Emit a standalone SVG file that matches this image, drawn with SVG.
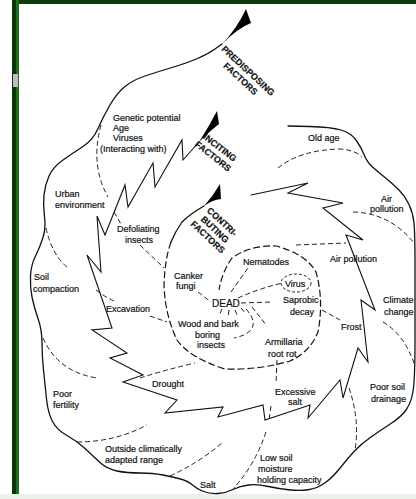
<svg xmlns="http://www.w3.org/2000/svg" width="416" height="499" viewBox="0 0 416 499">
<style>
.bg{fill:#fff}
.ln{fill:none;stroke:#111;stroke-width:1.3;stroke-linejoin:round;stroke-linecap:round}
.zz{fill:none;stroke:#111;stroke-width:1.1;stroke-linejoin:miter;stroke-linecap:round}
.ds{fill:none;stroke:#222;stroke-width:1;stroke-dasharray:5 3}
.dl{fill:none;stroke:#111;stroke-width:1.2;stroke-dasharray:7 3}
.fl{fill:#000}
text{font-family:"Liberation Sans",Arial,sans-serif;font-size:9px;fill:#111;stroke:#111;stroke-width:0.2}
.cap{font-weight:bold;font-size:9px}
.c{text-anchor:middle}
</style>
<rect class="bg" width="416" height="499"/>
<rect x="12" y="0" width="404" height="4" fill="#0b3a0b"/>
<rect x="12" y="0" width="4" height="499" fill="#073307"/>
<rect x="16" y="0" width="3" height="499" fill="#1f6e1f"/>
<rect x="0" y="494" width="416" height="5" fill="#eaf0ea"/>
<rect x="13" y="74" width="5" height="13" fill="#bdbdbd"/>

<g id="connectors">
<!-- predisposing spiral (outer boundary) -->
<path class="ln" d="M222,44 L215,49 Q208,54 197.5,58.5 Q187,63 172,67.5 Q157,72 145,76 Q133,80 125,86.5 Q117,93 110,105 Q103,117 98,128.5 Q93,140 83,146.5 Q73,153 63,160 Q53,167 49,176 Q45,185 44,195 Q43,205 44.5,216.5 Q46,228 43,237.5 Q40,247 35.5,256 Q31,265 30.5,276 Q30,287 32,297 Q34,307 38,318.5 Q42,330 42,342.5 Q42,355 43.5,370 Q45,385 46.5,399 Q48,413 52.5,421.5 Q57,430 67,435.5 Q77,441 85,448.5 Q93,456 100,462.5 Q107,469 117,471 Q127,473 140,473 Q153,473 163,475 Q173,477 180.5,479 Q188,481 192.5,485 Q197,489 203.5,491.5 Q210,494 218,493.5 Q226,493 233,489.5 Q240,486 248.5,485 Q257,484 268.5,486.5 Q280,489 290.5,490 Q301,491 309.5,489.5 Q318,488 325.5,482.5 Q333,477 340.5,467.5 Q348,458 354.5,451 Q361,444 371,437 Q381,430 391,423.5 Q401,417 406,410 Q411,403 413,391.5 Q415,380 415,340 Q415,300 415,266.5 Q415,233 414,223 Q413,213 409,204.5 Q405,196 399,190 Q393,184 385,177.5 Q377,171 372,166.5 Q367,162 364,154.5 Q361,147 356,140 Q351,133 341,130 Q331,127 309.5,126.5 L288,126"/>
<path class="fl" d="M222,44 Q236,30 246,9 L251,23 Q238,28 222,44 Z"/>
<!-- inciting spiral (zigzag) -->
<path class="zz" d="M199,142 L183,160 L182,140 L155,187 L153,163 L128,207 L125,185 L105,235 L97,216 L101,272 L87,255 L112,328 L92,330 L127,353 L110,358 L143,375 L123,382 L177,400 L165,413 L223,407 L218,417 L263,405 L265,420 L310,405 L308,418 L340,380 L343,398 L358,348 L368,362 L361,300 L375,310 L346,235 L363,240 L323,208 L343,203 L288,193 L308,183 L251,195"/>
<path class="fl" d="M199,142 Q208,128 217,111 L219,124 Q210,131 199,142 Z"/>
<!-- contributing spiral -->
<path class="ln" d="M204,206 Q190,214 182,222 Q175,232 171,242"/>
<path class="dl" d="M171,242 Q165,258 164,285 Q165,315 177,340 Q190,358 225,369 Q260,370 290,361 Q310,352 318,332 Q324,300 316,272 Q306,254 276,246 Q250,245 232,258 Q222,272 219,290"/>
<path class="fl" d="M204,206 Q213,196 220,184 L221,199 Q212,200 204,206 Z"/>
<!-- dashed boundaries -->
<path class="ds" d="M101,125 Q90,165 108,197"/>
<path class="ds" d="M114,212 L121,224"/>
<path class="ds" d="M140,245 L164,268"/>
<path class="ds" d="M46,228 Q52,255 68,268"/>
<path class="ds" d="M96,290 Q105,297 114,301"/>
<path class="ds" d="M150,316 L167,322"/>
<path class="ds" d="M43,338 Q58,372 97,378"/>
<path class="ds" d="M140,378 Q165,370 195,363"/>
<path class="ds" d="M77,442 Q115,442 147,425"/>
<path class="ds" d="M170,476 Q200,462 222,443"/>
<path class="ds" d="M277,360 L276,384"/>
<path class="ds" d="M271,406 L269,420"/>
<path class="ds" d="M266,432 Q255,465 233,489"/>
<path class="ds" d="M349,388 Q360,420 355,450"/>
<path class="ds" d="M383,322 Q405,335 415,366"/>
<path class="ds" d="M353,212 Q390,213 414,243"/>
<path class="ds" d="M278,168 Q300,150 340,149 Q355,150 362,157"/>
<path class="ds" d="M296,245 L346,243"/>
<path class="ds" d="M322,310 L340,320"/>
<!-- around DEAD -->
<path class="ds" d="M198,292 L211,302"/>
<path class="ds" d="M241,303 L272,302"/>
<path class="ds" d="M238,298 Q260,288 283,283"/>
<path class="ds" d="M231,292 L248,268"/>
<path class="ds" d="M222,309 L219,316 M229,310 L228,318 M235,310 L238,317 M241,308 L246,314"/>
<path class="ds" d="M246,309 Q258,322 250,331 Q244,336 234,338"/>
<path class="ds" d="M252,307 L267,326"/>
<ellipse class="ds" cx="296" cy="283" rx="15" ry="9" style="stroke-dasharray:3 2"/>
</g>

<g id="predisposing-factors" transform="translate(246,73) rotate(43)"><text class="cap c" x="0" y="0">PREDISPOSING</text><text class="cap c" x="0" y="11">FACTORS</text></g>
<g id="inciting-factors" transform="translate(218,150) rotate(38)"><text class="cap c" x="0" y="0">INCITING</text><text class="cap c" x="0" y="11">FACTORS</text></g>
<g id="contributing-factors" transform="translate(220,224) rotate(43)"><text class="cap c" x="0" y="0">CONTRI-</text><text class="cap c" x="0" y="10.5">BUTING</text><text class="cap c" x="0" y="21">FACTORS</text></g>

<g id="genetic"><text x="113" y="121">Genetic potential</text><text x="113" y="131">Age</text><text x="113" y="141">Viruses</text><text x="100" y="152">(Interacting with)</text></g>
<g id="urban"><text x="55" y="197">Urban</text><text x="55" y="208">environment</text></g>
<g id="defoliating"><text x="117" y="232">Defoliating</text><text x="125" y="243">insects</text></g>
<g id="soil-compaction"><text x="34" y="280">Soil</text><text x="33" y="292">compaction</text></g>
<g id="excavation"><text x="106" y="312">Excavation</text></g>
<g id="canker"><text x="174" y="279">Canker</text><text x="176" y="289">fungi</text></g>
<g id="dead"><text x="212" y="307" style="font-size:10px">DEAD</text></g>
<g id="wood"><text x="178" y="327">Wood and bark</text><text x="195" y="338">boring</text><text x="197" y="348">insects</text></g>
<g id="nematodes"><text x="243" y="265">Nematodes</text></g>
<g id="virus"><text x="285" y="287">Virus</text></g>
<g id="saprobic"><text x="283" y="303">Saprobic</text><text x="290" y="315">decay</text></g>
<g id="air-pollution-inner"><text x="330" y="262">Air pollution</text></g>
<g id="air-pollution-outer"><text x="381" y="202">Air</text><text x="370" y="212">pollution</text></g>
<g id="old-age"><text x="308" y="141">Old age</text></g>
<g id="climate"><text x="383" y="303">Climate</text><text x="384" y="315">change</text></g>
<g id="frost"><text x="341" y="330">Frost</text></g>
<g id="armillaria"><text x="265" y="345">Armillaria</text><text x="268" y="357">root rot</text></g>
<g id="excessive-salt"><text x="275" y="395">Excessive</text><text x="288" y="405">salt</text></g>
<g id="poor-drainage"><text x="370" y="390">Poor soil</text><text x="371" y="402">drainage</text></g>
<g id="drought"><text x="152" y="387">Drought</text></g>
<g id="poor-fertility"><text x="53" y="397">Poor</text><text x="53" y="408">fertility</text></g>
<g id="outside-range"><text x="105" y="452">Outside climatically</text><text x="105" y="463">adapted range</text></g>
<g id="salt"><text x="200" y="488">Salt</text></g>
<g id="low-soil"><text x="260" y="461">Low soil</text><text x="258" y="472">moisture</text><text x="257" y="483">holding capacity</text></g>
</svg>
